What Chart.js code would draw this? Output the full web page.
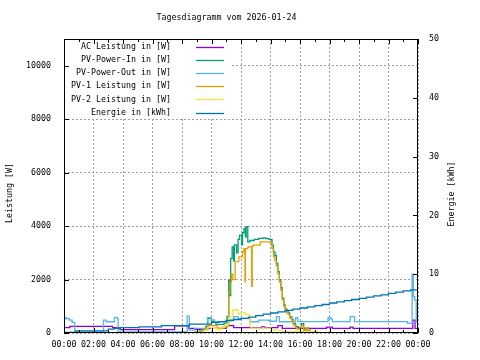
<!DOCTYPE html>
<html>
<head>
<meta charset="utf-8">
<script src="https://cdn.jsdelivr.net/npm/chart.js@4"></script>
<style>
  body { margin: 0; background: #fff; }
  canvas { display: block; }
</style>
</head>
<body>
<canvas id="chart" width="480" height="360"></canvas>
<script>
// hours of day (0..24) and values, one pair of arrays per series (step lines)
var acTimes = [0, 0.4, 3.3, 3.8, 7.5, 8.45, 8.85, 9.75, 11.0, 11.5, 13.4, 13.6, 14.5, 14.8, 15.7, 15.9, 17.8, 18.2, 19.4, 19.6, 23.65, 23.8, 24];
var acValues = [200, 250, 200, 130, 270, 175, 140, 175, 275, 200, 230, 200, 275, 175, 230, 175, 220, 175, 220, 175, 480, 175, 175];

var pvInTimes = [0, 8.95, 9.2, 9.4, 9.6, 9.75, 10.0, 10.3, 10.85, 11.05, 11.17, 11.25, 11.3, 11.4, 11.5, 11.55, 11.7, 11.8, 11.9, 12.05, 12.1, 12.2, 12.3, 12.35, 12.46, 12.6, 12.9, 13.2, 13.5, 13.7, 13.9, 14.1, 14.2, 14.3, 14.4, 14.5, 14.6, 14.7, 14.8, 14.9, 15.0, 15.1, 15.2, 15.3, 15.45, 15.55, 15.7, 15.8, 16.0, 16.1, 16.25, 16.4, 16.55, 16.7, 24];
var pvInValues = [0, 30, 80, 150, 250, 550, 420, 320, 370, 620, 1980, 1400, 2790, 3225, 2700, 3300, 3000, 3500, 3660, 3300, 3750, 3910, 3600, 3975, 3410, 3460, 3500, 3540, 3560, 3530, 3500, 3290, 3040, 2900, 2600, 2300, 2000, 1700, 1300, 1050, 900, 800, 750, 600, 500, 350, 250, 180, 200, 350, 120, 200, 60, 0, 0];

var pvOutTimes = [0, 0.07, 0.17, 0.36, 0.55, 0.73, 2.68, 2.86, 3.42, 3.6, 3.67, 8.35, 8.5, 8.85, 9.73, 9.98, 10.2, 11.0, 11.5, 11.8, 12.6, 13.2, 13.9, 14.4, 14.6, 15.7, 15.85, 17.9, 18.1, 18.2, 19.4, 19.7, 23.3, 23.6, 23.68, 23.78, 23.88, 24];
var pvOutValues = [520, 570, 540, 485, 400, 40, 485, 420, 587, 540, 40, 635, 110, 175, 572, 486, 420, 500, 610, 550, 420, 480, 440, 610, 420, 570, 423, 570, 520, 423, 610, 423, 362, 2200, 1360, 1230, 420, 420];

var pv1Times = [0, 8.85, 9.3, 9.6, 9.75, 10.4, 10.85, 11.1, 11.17, 11.25, 11.35, 11.45, 11.6, 11.85, 12.1, 12.2, 12.27, 12.3, 12.46, 12.5, 12.72, 12.76, 12.85, 13.3, 14.0, 14.1, 14.2, 14.3, 14.4, 14.5, 14.6, 14.7, 14.8, 14.9, 15.0, 15.1, 15.2, 15.3, 15.45, 15.55, 15.7, 15.8, 16.0, 16.1, 16.25, 16.4, 16.55, 16.7, 17.1, 24];
var pv1Values = [0, 40, 100, 200, 280, 170, 230, 300, 1500, 1900, 2200, 2000, 2670, 2850, 3040, 3160, 1920, 3160, 3200, 3220, 1750, 3250, 3290, 3410, 3350, 3160, 2850, 2700, 2500, 2200, 1900, 1600, 1250, 1000, 850, 750, 700, 550, 450, 300, 200, 150, 180, 250, 100, 200, 120, 50, 0, 0];

var pv2Times = [0, 8.85, 9.5, 9.75, 10.0, 10.4, 10.6, 10.9, 11.1, 11.2, 11.45, 11.8, 12.0, 12.3, 12.6, 12.7, 14.05, 14.8, 17.2, 24];
var pv2Values = [0, 20, 110, 200, 175, 120, 220, 280, 350, 610, 860, 720, 760, 700, 235, 180, 110, 50, 0, 0];

var energyTimes = [0, 0.8, 3.0, 3.4, 3.8, 5.1, 6.6, 8.5, 10.0, 10.5, 11.0, 11.5, 12.0, 12.5, 13.0, 13.5, 14.0, 14.5, 15.0, 15.5, 16.0, 16.5, 17.0, 17.5, 18.0, 18.5, 19.0, 19.5, 20.0, 20.5, 21.0, 21.5, 22.0, 22.5, 23.0, 23.5, 24];
var energyValues = [0.1, 0.35, 0.65, 0.8, 0.9, 1.05, 1.25, 1.5, 1.8, 1.95, 2.1, 2.3, 2.5, 2.7, 2.95, 3.2, 3.4, 3.6, 3.85, 4.05, 4.25, 4.45, 4.65, 4.85, 5.1, 5.3, 5.5, 5.7, 5.9, 6.1, 6.3, 6.5, 6.75, 6.95, 7.15, 7.35, 7.6];

var seriesLabels = ['AC Leistung in [W]', 'PV-Power-In in [W]', 'PV-Power-Out in [W]', 'PV-1 Leistung in [W]', 'PV-2 Leistung in [W]', 'Energie in [kWh]'];
var seriesColors = ['#9400d3', '#009e73', '#56b4e9', '#e69f00', '#f0e442', '#0072b2'];

var hourTicks = [0, 2, 4, 6, 8, 10, 12, 14, 16, 18, 20, 22, 24];
var powerTicks = [0, 2000, 4000, 6000, 8000, 10000];
var energyTicks = [0, 10, 20, 30, 40, 50];

function pts(times, values) {
    return times.map(function (t, i) { return { x: t, y: values[i] }; });
}

function fixedTicks(list) {
    return function (scale) {
        scale.ticks = list.map(function (v) { return { value: v }; });
    };
}

var seriesData = [
    pts(acTimes, acValues),
    pts(pvInTimes, pvInValues),
    pts(pvOutTimes, pvOutValues),
    pts(pv1Times, pv1Values),
    pts(pv2Times, pv2Values),
    pts(energyTimes, energyValues)
];

var FONT = 'DejaVu Sans Mono';
Chart.defaults.font.family = FONT;
Chart.defaults.font.size = 8.3;
Chart.defaults.color = '#000';

function vText(ctx, text, x, y) {
    ctx.save();
    ctx.translate(x, y);
    ctx.rotate(-Math.PI / 2);
    ctx.fillText(text, 0, 0);
    ctx.restore();
}

// gnuplot-like title, frame, inward tick marks, key and axis labels
var gnuplotLook = {
    id: 'gnuplotLook',
    afterDraw: function (chart) {
        var ctx = chart.ctx;
        var a = chart.chartArea;
        var sx = chart.scales.x, sy = chart.scales.y, sy2 = chart.scales.y2;
        ctx.save();
        ctx.font = '8.3px ' + FONT;

        // title
        ctx.fillStyle = '#000';
        ctx.textAlign = 'center';
        ctx.textBaseline = 'middle';
        ctx.fillText('Tagesdiagramm vom 2026-01-24', 226.5, 18);

        // key with opaque background
        ctx.fillStyle = '#fff';
        ctx.fillRect(a.left + 1, a.top + 1, 230 - a.left, 118 - a.top);
        ctx.textAlign = 'right';
        chart.data.datasets.forEach(function (ds, i) {
            var y = 47 + i * 13.1;
            ctx.fillStyle = '#000';
            ctx.fillText(ds.label, 171, y);
            ctx.strokeStyle = ds.borderColor;
            ctx.lineWidth = 1.3;
            ctx.beginPath();
            ctx.moveTo(196, Math.round(y) + 0.5);
            ctx.lineTo(224, Math.round(y) + 0.5);
            ctx.stroke();
        });

        // frame
        ctx.strokeStyle = '#000';
        ctx.lineWidth = 1;
        ctx.strokeRect(a.left + 0.5, a.top + 0.5, a.right - a.left - 1, a.bottom - a.top - 1);

        // inward tick marks
        ctx.beginPath();
        for (var h = 0; h <= 24; h++) {
            var px = Math.round(sx.getPixelForValue(h)) + 0.5;
            var len = (h % 2 === 0) ? 5 : 3;
            ctx.moveTo(px, a.bottom);
            ctx.lineTo(px, a.bottom - len);
            ctx.moveTo(px, a.top);
            ctx.lineTo(px, a.top + len);
        }
        sy.ticks.forEach(function (t) {
            var py = Math.round(sy.getPixelForValue(t.value)) + 0.5;
            ctx.moveTo(a.left, py);
            ctx.lineTo(a.left + 5, py);
        });
        sy2.ticks.forEach(function (t) {
            var py = Math.round(sy2.getPixelForValue(t.value)) + 0.5;
            ctx.moveTo(a.right, py);
            ctx.lineTo(a.right - 5, py);
        });
        ctx.stroke();

        // axis titles, both reading bottom to top
        ctx.fillStyle = '#000';
        ctx.textAlign = 'center';
        vText(ctx, 'Leistung [W]', 10, 193);
        vText(ctx, 'Energie [kWh]', 452, 194);
        ctx.restore();
    }
};

var datasets = seriesLabels.map(function (label, i) {
    return {
        label: label,
        data: seriesData[i],
        borderColor: seriesColors[i],
        backgroundColor: seriesColors[i],
        borderWidth: 1.3,
        pointRadius: 0,
        stepped: true,
        fill: false,
        yAxisID: i === 5 ? 'y2' : 'y',
        order: 5 - i
    };
});

var chart = new Chart(document.getElementById('chart').getContext('2d'), {
    type: 'line',
    data: { datasets: datasets },
    options: {
        responsive: false,
        animation: false,
        devicePixelRatio: 1,
        layout: { padding: { top: 39, left: 0, right: 0, bottom: 0 } },
        plugins: {
            legend: { display: false },
            tooltip: { enabled: false },
            title: { display: false }
        },
        scales: {
            x: {
                type: 'linear',
                min: 0,
                max: 24,
                afterBuildTicks: fixedTicks(hourTicks),
                afterFit: function (scale) { scale.height = 27; },
                ticks: {
                    maxRotation: 0,
                    autoSkip: false,
                    padding: 7,
                    callback: function (v) {
                        var hh = v % 24;
                        return (hh < 10 ? '0' : '') + hh + ':00';
                    }
                },
                grid: { color: '#a0a0a0', drawTicks: false, lineWidth: 1 },
                border: { display: false, dash: [2, 2] }
            },
            y: {
                position: 'left',
                min: 0,
                max: 11000,
                afterBuildTicks: fixedTicks(powerTicks),
                afterFit: function (scale) { scale.width = 64; },
                ticks: {
                    autoSkip: false,
                    padding: 13,
                    callback: function (v) { return String(v); }
                },
                grid: { color: '#a0a0a0', drawTicks: false, lineWidth: 1 },
                border: { display: false, dash: [2, 2] }
            },
            y2: {
                position: 'right',
                min: 0,
                max: 50,
                afterBuildTicks: fixedTicks(energyTicks),
                afterFit: function (scale) { scale.width = 62; },
                ticks: { autoSkip: false, padding: 11 },
                grid: { display: false, drawOnChartArea: false, drawTicks: false },
                border: { display: false }
            }
        }
    },
    plugins: [gnuplotLook]
});
</script>
</body>
</html>
